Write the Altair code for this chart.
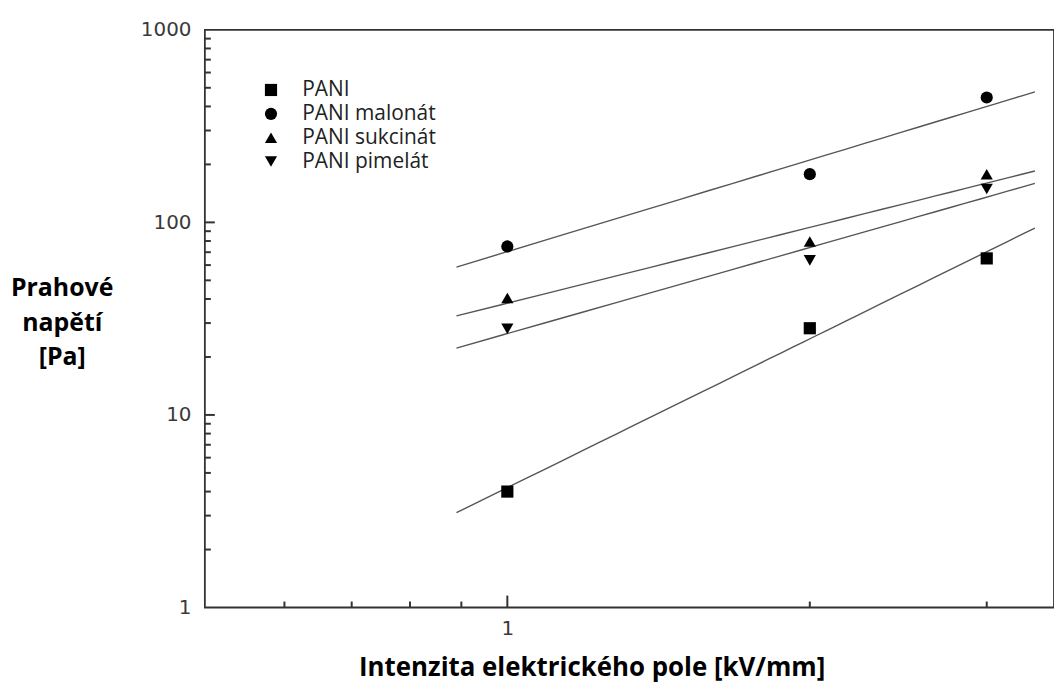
import altair as alt
import pandas as pd

# ---- data ----
series_names = ["PANI", "PANI malonát", "PANI sukcinát", "PANI pimelát"]
field_kv = [1, 2, 3]
pani = [4.0, 28.2, 65.0]
malonat = [75.0, 178.0, 445.0]
sukcinat = [40.5, 79.5, 178.0]
pimelat = [28.0, 63.5, 149.0]
shapes = ["square", "circle", "triangle-up", "triangle-down"]

x_minor = [0.6, 0.7, 0.8, 0.9, 2, 3]
x_major = [1]
y_minor = [m * d for d in (1, 10, 100) for m in range(2, 10)]
y_major = [10, 100]

rows = []
for name, vals in zip(series_names, [pani, malonat, sukcinat, pimelat]):
    for xv, yv in zip(field_kv, vals):
        rows.append({"E": xv, "tau": yv, "s": name})
df = pd.DataFrame(rows)

W, H = 854, 581
xscale = alt.Scale(type="log", domain=[0.5, 3.5], nice=False, zero=False)
yscale = alt.Scale(type="log", domain=[1, 1000], nice=False, zero=False)

xaxis = alt.Axis(
    values=[1], format="d", ticks=False, tickSize=0, grid=False, domain=False,
    labelFont="DejaVu Sans", labelFontSize=20, labelColor="#3a3a3a",
    labelPadding=11,
    title="Intenzita elektrického pole [kV/mm]", titleFont="Open Sans",
    titleFontSize=26, titleFontWeight="bold", titleColor="#000",
    titleAnchor="start", titleAlign="center", titleX=389, titleY=68,
    titleBaseline="alphabetic",
)
yaxis = alt.Axis(
    values=[1, 10, 100, 1000], format="d", ticks=False, tickSize=0, grid=False,
    domain=False, labelFont="DejaVu Sans", labelFontSize=20,
    labelColor="#3a3a3a", labelPadding=14,
    title=["Prahové", "napětí", "[Pa]"], titleFont="Open Sans",
    titleFontSize=25, titleFontWeight="bold", titleColor="#000",
    titleAngle=0, titleAlign="center", titleBaseline="top",
    titleLineHeight=35, titleX=-144, titleY=247,
)

base = alt.Chart(df)

lines = base.transform_regression(
    "E", "tau", groupby=["s"], method="pow", extent=[0.89, 3.35]
).mark_line(color="#555", strokeWidth=1.4).encode(
    x=alt.X("E:Q", scale=xscale, axis=xaxis),
    y=alt.Y("tau:Q", scale=yscale, axis=yaxis),
    detail="s:N",
)

points = base.mark_point(filled=True, color="black", opacity=1, size=150).encode(
    x=alt.X("E:Q", scale=xscale),
    y=alt.Y("tau:Q", scale=yscale),
    shape=alt.Shape(
        "s:N",
        scale=alt.Scale(domain=series_names, range=shapes),
        legend=alt.Legend(
            title=None, orient="none", legendX=56, legendY=50,
            labelFont="Open Sans", labelFontSize=21, labelColor="#222",
            symbolSize=150, symbolFillColor="black", symbolStrokeColor="black",
            symbolType="circle", labelOffset=21, rowPadding=2,
        ),
    ),
)

xt_minor = alt.Chart(pd.DataFrame({"v": x_minor})).mark_rule(
    color="#333", strokeWidth=2
).encode(x=alt.X("v:Q", scale=xscale), y=alt.value(H), y2=alt.value(H - 6))
xt_major = alt.Chart(pd.DataFrame({"v": x_major})).mark_rule(
    color="#333", strokeWidth=2
).encode(x=alt.X("v:Q", scale=xscale), y=alt.value(H), y2=alt.value(H - 12))
yt_minor = alt.Chart(pd.DataFrame({"v": y_minor})).mark_rule(
    color="#333", strokeWidth=2
).encode(y=alt.Y("v:Q", scale=yscale), x=alt.value(0), x2=alt.value(6))
yt_major = alt.Chart(pd.DataFrame({"v": y_major})).mark_rule(
    color="#333", strokeWidth=2
).encode(y=alt.Y("v:Q", scale=yscale), x=alt.value(0), x2=alt.value(10))

chart = alt.layer(lines, points, xt_minor, xt_major, yt_minor, yt_major).properties(
    width=W, height=H,
    autosize=alt.AutoSizeParams(type="none"),
    padding={"left": 198, "top": 20, "right": 0, "bottom": 75},
    background="white",
).configure_view(stroke="#333", strokeWidth=1.8)

chart.save("out.html", embed_options={"renderer": "svg", "actions": False})
